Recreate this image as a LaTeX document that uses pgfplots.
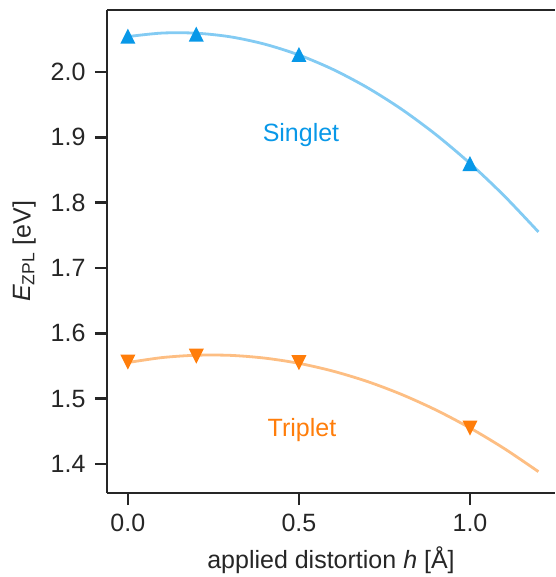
\documentclass[border=0pt]{standalone}
\usepackage{fontspec}
\setmainfont{Liberation Sans}
\usepackage{pgfplots}
\pgfplotsset{compat=1.18}
\usetikzlibrary{calc}
\definecolor{sblue}{RGB}{8,152,232}
\definecolor{sbluel}{RGB}{131,203,243}
\definecolor{torange}{RGB}{255,125,10}
\definecolor{torangel}{RGB}{253,190,131}
\definecolor{spine}{RGB}{38,38,38}
\pgfdeclareplotmark{mtri}{%
  \pgfpathmoveto{\pgfqpoint{0pt}{\pgfplotmarksize}}%
  \pgfpathlineto{\pgfqpoint{-\pgfplotmarksize}{-\pgfplotmarksize}}%
  \pgfpathlineto{\pgfqpoint{\pgfplotmarksize}{-\pgfplotmarksize}}%
  \pgfpathclose\pgfusepathqfill}
\pgfdeclareplotmark{mtridown}{%
  \pgfpathmoveto{\pgfqpoint{0pt}{-\pgfplotmarksize}}%
  \pgfpathlineto{\pgfqpoint{-\pgfplotmarksize}{\pgfplotmarksize}}%
  \pgfpathlineto{\pgfqpoint{\pgfplotmarksize}{\pgfplotmarksize}}%
  \pgfpathclose\pgfusepathqfill}
\begin{document}
\fontsize{25}{30}\selectfont
\begin{tikzpicture}
\begin{axis}[
  scale only axis,
  width=448pt, height=483pt,
  xmin=-0.061, xmax=1.2485,
  ymin=1.3556, ymax=2.095,
  axis x line=box, axis y line=left,
  x axis line style={-}, y axis line style={-},
  xtick pos=bottom, ytick pos=left,
  axis line style={spine, line width=2.5pt},
  tick style={spine, line width=2.5pt},
  tick align=outside,
  major tick length=12pt,
  xtick={0,0.5,1.0},
  ytick={1.4,1.5,1.6,1.7,1.8,1.9,2.0},
  /pgf/number format/assume math mode=true,
  /pgf/number format/fixed,
  /pgf/number format/fixed zerofill,
  /pgf/number format/precision=1,
  ticklabel style={font=\fontsize{25}{30}\selectfont, text=spine},
  xticklabel style={yshift=-1pt},
  yticklabel style={xshift=-1pt},
  xlabel={applied distortion \textit{h} [Å]},
  ylabel={\textit{E}\textsubscript{ZPL} [eV]},
  label style={font=\fontsize{25}{30}\selectfont, text=spine},
  xlabel style={yshift=2pt},
  ylabel style={yshift=-2pt},
  clip=true,
]
\addplot[sbluel, line width=2.8pt, smooth] coordinates {
(0,2.0543) (0.1,2.0597) (0.2,2.0595) (0.3,2.0539) (0.4,2.0427) (0.5,2.0261)
(0.6,2.0039) (0.7,1.9762) (0.8,1.9431) (0.9,1.9044) (1.0,1.8602) (1.1,1.8105) (1.2,1.7553)};
\addplot[torangel, line width=2.8pt, smooth] coordinates {
(0,1.5553) (0.1,1.5629) (0.2,1.5665) (0.3,1.5663) (0.4,1.5621) (0.5,1.5541)
(0.6,1.5421) (0.7,1.5263) (0.8,1.5065) (0.9,1.4828) (1.0,1.4552) (1.1,1.4237) (1.2,1.3883)};
\addplot[only marks, mark=mtri, mark size=7.5pt, sblue] coordinates {
(0,2.055) (0.2,2.058) (0.5,2.027) (1.0,1.860)};
\addplot[only marks, mark=mtridown, mark size=7.5pt, torange] coordinates {
(0,1.556) (0.2,1.565) (0.5,1.555) (1.0,1.455)};
\node[text=sblue, font=\fontsize{25}{30}\selectfont] at (axis cs:0.506,1.9035) {Singlet};
\node[text=torange, font=\fontsize{25}{30}\selectfont] at (axis cs:0.509,1.452) {Triplet};
\coordinate (bl) at (rel axis cs:0,0);
\coordinate (tr) at (rel axis cs:1,1);
\end{axis}
\pgfresetboundingbox
\path ($(bl)+(-107pt,-84pt)$) rectangle ($(tr)+(0pt,10pt)$);
\end{tikzpicture}
\end{document}
